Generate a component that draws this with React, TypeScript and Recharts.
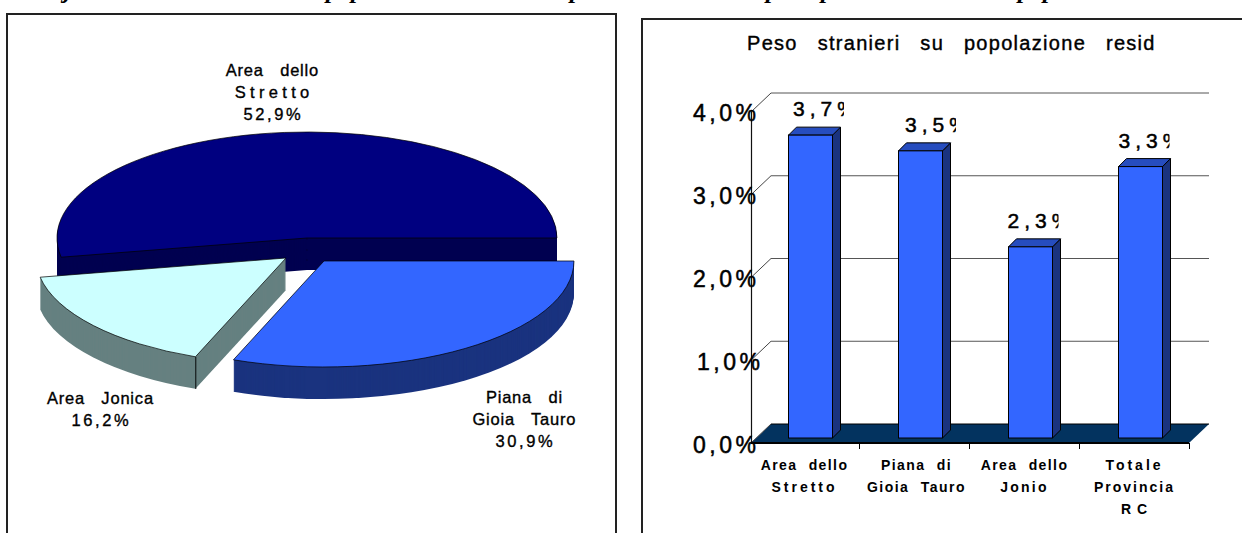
import React from 'react';
import { PieChart, Pie, Cell, BarChart, Bar, XAxis, YAxis, CartesianGrid, LabelList } from 'recharts';

// Left chart: shares by area, in the order they run round the pie
const sliceNames = ['Area dello Stretto', 'Area Jonica', 'Piana di Gioia Tauro'];
const sliceValues = [52.9, 16.2, 30.9];

// Right chart: weight of foreigners on resident population
const barCategories = [['Area dello', 'Stretto'], ['Piana di', 'Gioia Tauro'], ['Area dello', 'Jonio'], ['Totale', 'Provincia', 'R C']];
const barValues = [3.66, 3.47, 2.31, 3.28];
const yTicks = [0, 1, 2, 3, 4];

const pieData = sliceNames.map((name, i) => ({ name, value: sliceValues[i] }));
const barData = barCategories.map((lines, i) => ({ name: lines.join(' '), lines, value: barValues[i] }));

const FONT = '"Liberation Sans", Arial, sans-serif';
const fmt = (v: number, digits = 1) => `${v.toFixed(digits).replace('.', ',')}%`;

// ---- 3D pie: a flat pie squashed with a CSS transform, extruded by stacking copies
const SQUASH = 0.424;
const RADIUS = 250;
const DEPTH = 32;
const topColors = ['#000080', '#CCFFFF', '#3366FF'];
const sideColors = ['#000050', '#668080', '#1A337F'];
const sliceCenters = [
  { x: 307, y: 238 },
  { x: 286, y: 258 },
  { x: 324, y: 261 },
];

const boundaryAngles = sliceValues.reduce<number[]>((acc, v) => [...acc, acc[acc.length - 1] + (v * 360) / 100], [0]);

const slicePie = (idx: number, yPage: number, top: boolean) => (
  <Pie
    key={`${idx}-${yPage}`}
    data={pieData}
    dataKey="value"
    cx={sliceCenters[idx].x}
    cy={yPage / SQUASH}
    outerRadius={RADIUS}
    startAngle={0}
    endAngle={360}
    isAnimationActive={false}
    legendType="none"
    label={false}
    labelLine={false}
  >
    {pieData.map((_, i) => (
      <Cell
        key={i}
        fill={i === idx ? (top ? topColors[idx] : sideColors[idx]) : 'none'}
        stroke={i === idx && top ? '#000' : 'none'}
        strokeWidth={1}
      />
    ))}
  </Pie>
);

const edgePie = (idx: number, yPage: number, angle: number) => (
  <Pie
    key={`edge-${idx}-${angle}-${yPage}`}
    data={[{ value: 1 }]}
    dataKey="value"
    cx={sliceCenters[idx].x}
    cy={yPage / SQUASH}
    innerRadius={RADIUS - 2}
    outerRadius={RADIUS}
    startAngle={angle - 0.12}
    endAngle={angle + 0.12}
    isAnimationActive={false}
    legendType="none"
    fill="#000"
    stroke="none"
  />
);

const vertexPie = (idx: number, yPage: number) => (
  <Pie
    key={`vertex-${idx}-${yPage}`}
    data={[{ value: 1 }]}
    dataKey="value"
    cx={sliceCenters[idx].x}
    cy={yPage / SQUASH}
    outerRadius={0.6}
    isAnimationActive={false}
    legendType="none"
    fill="#000"
    stroke="none"
  />
);

const depthSteps = Array.from({ length: DEPTH }, (_, i) => DEPTH - i);

const PieLabel = ({ x, y, lines }: { x: number; y: number; lines: [string, number][] }) => (
  <>
    {lines.map(([line, spacing], i) => (
      <text
        key={i}
        x={x + spacing / 2}
        y={y + i * 22}
        textAnchor="middle"
        fontFamily={FONT}
        fontSize={16.5}
        letterSpacing={spacing}
        wordSpacing={11}
        stroke="#000"
        strokeWidth={0.35}
        fill="#000"
      >
        {line}
      </text>
    ))}
  </>
);

// ---- 3D bars
const BAR_DEPTH = 8;
const Bar3D = (props: any) => {
  const { x, y, width, height } = props;
  const d = BAR_DEPTH;
  return (
    <g stroke="#000" strokeWidth={1}>
      <polygon points={`${x + width},${y} ${x + width + d},${y - d} ${x + width + d},${y + height - d} ${x + width},${y + height}`} fill="#1A337F" />
      <polygon points={`${x},${y} ${x + d},${y - d} ${x + width + d},${y - d} ${x + width},${y}`} fill="#264DBF" />
      <rect x={x} y={y} width={width} height={height} fill="#3366FF" />
    </g>
  );
};

const labelNudge = [4.5, 6.5, -1, 0];
const ValueLabel = (props: any) => {
  const { x, y, value, index } = props;
  const left = x + labelNudge[index];
  return (
    <svg x={left} y={y - 38} width={51} height={30}>
      <text x={0} y={19} fontFamily={FONT} fontSize={21} letterSpacing={5} stroke="#000" strokeWidth={0.5} fill="#000">
        {fmt(value)}
      </text>
    </svg>
  );
};

// wall, slanted ticks and floor hang off the grid so that they follow the value scale
const WALL_BACK = { dx: 15.5, dy: -14 };
const WALL_FRONT = { dx: -4.5, dy: 5 };
const GridLine = (props: any) => {
  const { x1, x2, y1, index } = props;
  const left = x1 + WALL_FRONT.dx;
  const back = x1 + WALL_BACK.dx;
  const right = x2 + 13.5;
  const yFront = y1 + WALL_FRONT.dy;
  const yBack = y1 + WALL_BACK.dy;
  const isFloor = yTicks[index] === 0;
  return (
    <g key={index}>
      {isFloor && <polygon points={`${left},${yFront} ${back},${yBack} ${right},${yBack} ${x2 - 6.5},${yFront}`} fill="#03335F" />}
      <line x1={left} y1={yFront} x2={back} y2={yBack} stroke="#444" />
      <line x1={back} y1={yBack} x2={right} y2={yBack} stroke={isFloor ? '#000' : '#555'} />
      {isFloor && <line x1={left} y1={yFront} x2={x2 - 6.5} y2={yFront} stroke="#000" strokeWidth={2} />}
      {yTicks[index] === 4 && <line x1={left + 0.5} y1={yFront} x2={left + 0.5} y2={yFront + 331} stroke="#111" strokeWidth={1.2} />}
    </g>
  );
};

const YTick = (props: any) => {
  const { y, payload } = props;
  const nudgeX = payload.value === 1 ? 4 : 0;
  const nudgeY = payload.value === 0 || payload.value === 1 ? 15 : 14;
  return (
    <text x={693 + nudgeX} y={y + nudgeY} fontFamily={FONT} fontSize={23} letterSpacing={3.5} stroke="#000" strokeWidth={0.5} fill="#000">
      {fmt(payload.value)}
    </text>
  );
};

const tickSpacing: Record<string, number> = { Stretto: 3, 'Gioia Tauro': 1.5, Jonio: 2.2, Totale: 3, Provincia: 2, 'R C': 1 };
const tickNudge = [0, 2, 0, 0];
const XTick = (props: any) => {
  const { x, y, index } = props;
  const cat = barData[index];
  if (!cat) return null;
  const tx = x + 49;
  return (
    <g>
      <line x1={tx} y1={y + 5} x2={tx} y2={y + 11} stroke="#000" />
      {cat.lines.map((line: string, i: number) => (
        <text
          key={i}
          x={x - 6 + tickNudge[index]}
          y={y + 32 + i * 22}
          textAnchor="middle"
          fontFamily={FONT}
          fontSize={14}
          fontWeight={700}
          letterSpacing={tickSpacing[line] ?? 1.4}
          wordSpacing={line === 'R C' ? 0 : 6}
          fill="#000"
        >
          {line}
        </text>
      ))}
    </g>
  );
};

const PLOT = { left: 755.5, right: 1195.5, top: 107, bottom: 438 };

export default function App() {
  return (
    <div style={{ position: 'fixed', left: 0, top: 0, width: 1242, height: 533, overflow: 'hidden', background: '#fff' }}>
      {/* clipped caption above the charts, only the descenders show */}
      <svg width={1242} height={10} style={{ position: 'absolute', left: 0, top: 0 }}>
        <g fontFamily='"Liberation Serif", serif' fontStyle="italic" fontWeight={700} fontSize={25} fill="#000">
          <text x={64} y={-2.5}>j</text>
          <text x={326} y={-2.5}>popol</text>
          <text x={570} y={-2.5}>p</text>
          <text x={766} y={-2.5}>p</text>
          <text x={821} y={-2.5}>p</text>
          <text x={1018} y={-2.5}>popol</text>
        </g>
      </svg>

      <div style={{ position: 'absolute', left: 6, top: 13, width: 611, height: 540, border: '2px solid #222', boxSizing: 'border-box' }} />
      <div style={{ position: 'absolute', left: 641, top: 18, width: 640, height: 540, border: '2px solid #222', boxSizing: 'border-box' }} />

      {/* pie */}
      <div style={{ position: 'absolute', left: 0, top: 0, transform: `scaleY(${SQUASH})`, transformOrigin: 'top left' }}>
        <PieChart width={640} height={533 / SQUASH} margin={{ top: 0, right: 0, bottom: 0, left: 0 }}>
          {[0, 1, 2].map((idx) => {
            const c = sliceCenters[idx];
            const out: React.ReactNode[] = [];
            depthSteps.forEach((d) => {
              out.push(slicePie(idx, c.y + d, false));
              if (idx === 0) out.push(vertexPie(idx, c.y + d));
              if (idx === 1) out.push(edgePie(idx, c.y + d, boundaryAngles[2]));
              if (idx === 2) out.push(edgePie(idx, c.y + d, 359.9));
            });
            out.push(slicePie(idx, c.y, true));
            return out;
          })}
        </PieChart>
      </div>

      <svg width={640} height={533} style={{ position: 'absolute', left: 0, top: 0 }}>
        <PieLabel x={272} y={76} lines={[['Area dello', 0.8], ['Stretto', 4.3], [fmt(sliceValues[0]), 2.6]]} />
        <PieLabel x={100} y={404} lines={[['Area Jonica', 0.8], [fmt(sliceValues[1]), 2.6]]} />
        <PieLabel x={524} y={403} lines={[['Piana di', 0.8], ['Gioia Tauro', 0.8], [fmt(sliceValues[2]), 2.6]]} />
      </svg>

      {/* bars */}
      <svg width={1242} height={60} style={{ position: 'absolute', left: 0, top: 0 }}>
        <text x={747} y={50} fontFamily={FONT} fontSize={20} letterSpacing={1.3} wordSpacing={13} stroke="#000" strokeWidth={0.4} fill="#000">
          Peso stranieri su popolazione resid
        </text>
      </svg>
      <div style={{ position: 'absolute', left: 0, top: 0 }}>
        <BarChart
          width={1242}
          height={533}
          data={barData}
          margin={{ top: PLOT.top, right: 1242 - PLOT.right, bottom: 533 - PLOT.bottom - 1, left: PLOT.left - 1 }}
          style={{ overflow: 'visible' }}
        >
          <CartesianGrid horizontal={(p: any) => <GridLine {...p} />} vertical={false} />
          <XAxis dataKey="name" height={1} axisLine={false} tickLine={false} tickSize={0} tickMargin={0} interval={0} tick={<XTick />} />
          <YAxis width={1} domain={[0, 4]} ticks={yTicks} axisLine={false} tickLine={false} tickSize={0} tickMargin={0} interval={0} tick={<YTick />} />
          <Bar dataKey="value" barSize={44} shape={<Bar3D />} isAnimationActive={false}>
            <LabelList dataKey="value" content={<ValueLabel />} />
          </Bar>
        </BarChart>
      </div>
    </div>
  );
}
